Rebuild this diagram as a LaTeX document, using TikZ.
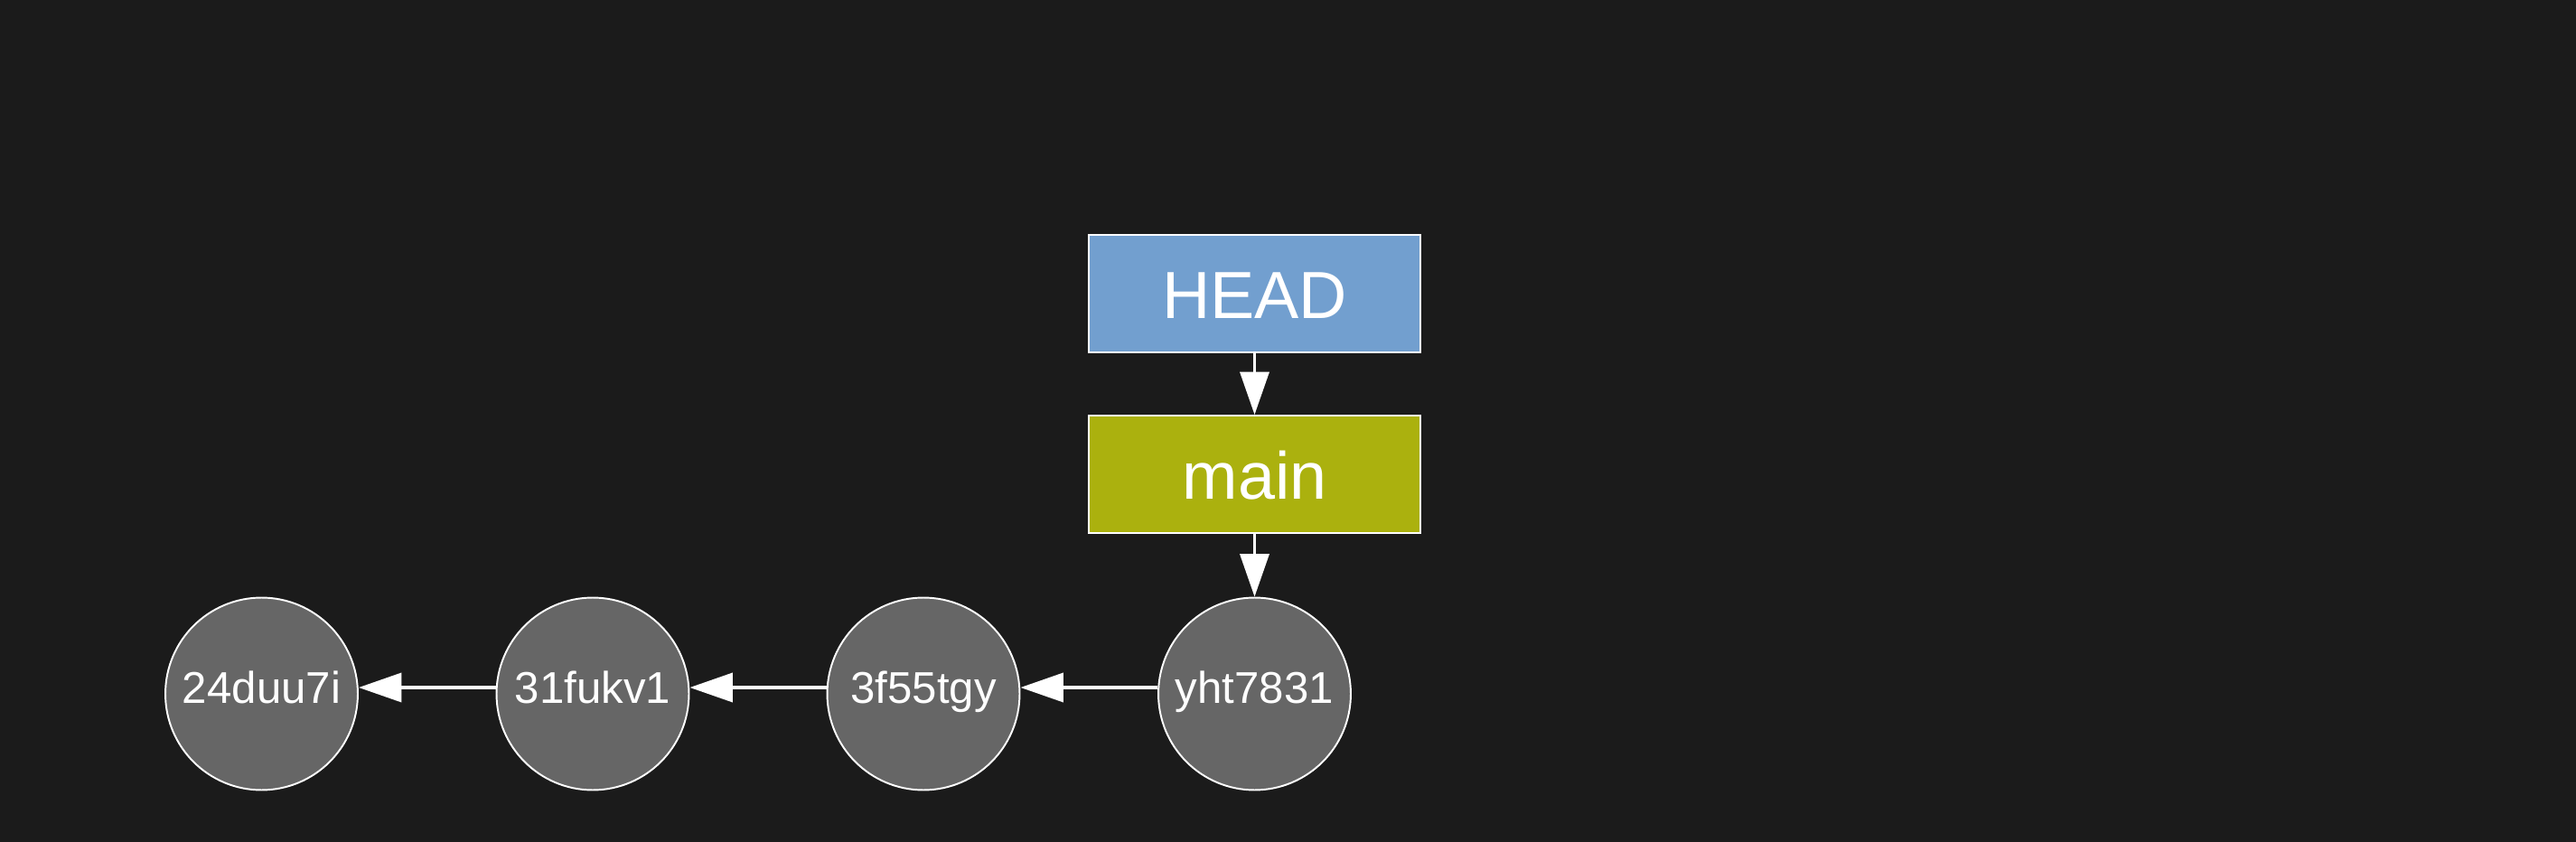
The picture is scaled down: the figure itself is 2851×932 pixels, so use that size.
\documentclass[tikz,border=0pt]{standalone}
\usepackage{fontspec}
\setmainfont{Liberation Sans}
\usetikzlibrary{arrows.meta}
\definecolor{bg}{HTML}{1B1B1B}
\definecolor{headblue}{HTML}{729FCF}
\definecolor{mainolive}{HTML}{ABB10E}
\definecolor{commitgray}{HTML}{666666}
\tikzset{
  refbox/.style={draw=white, line width=1.1pt, minimum width=7.34cm, minimum height=2.6cm, inner sep=0pt, text=white, text height=1.3cm, text depth=0.2cm, font=\fontsize{42}{48}\selectfont},
  commit/.style={circle, draw=white, line width=1.1pt, fill=commitgray, minimum size=4.26cm, inner sep=0pt, text=white, text height=0.6cm, text depth=0.2cm, font=\fontsize{28}{32}\selectfont},
  link/.style={draw=white, line width=2.1pt, -{Triangle[length=0.95cm,width=0.64cm]}}
}
\begin{document}
\begin{tikzpicture}[x=0.02cm, y=-0.02cm]
  \fill[bg] (0,0) rectangle (2851,932);
  \useasboundingbox (0,0) rectangle (2851,932);
  \node[refbox, fill=headblue] (head) at (1388.5,325) {HEAD};
  \node[refbox, fill=mainolive] (main) at (1388.5,525) {main};
  \node[commit] (c1) at (289.5,768) {24duu7i};
  \node[commit] (c2) at (656,768) {31fukv1};
  \node[commit] (c3) at (1022,768) {3f55tgy};
  \node[commit] (c4) at (1388.5,768) {yht7831};
  \draw[link] (head) -- (main);
  \draw[link] (main) -- (c4);
  \draw[link] ([yshift=0.14cm]c4.west) -- ([yshift=0.14cm]c3.east);
  \draw[link] ([yshift=0.14cm]c3.west) -- ([yshift=0.14cm]c2.east);
  \draw[link] ([yshift=0.14cm]c2.west) -- ([yshift=0.14cm]c1.east);
\end{tikzpicture}
\end{document}
